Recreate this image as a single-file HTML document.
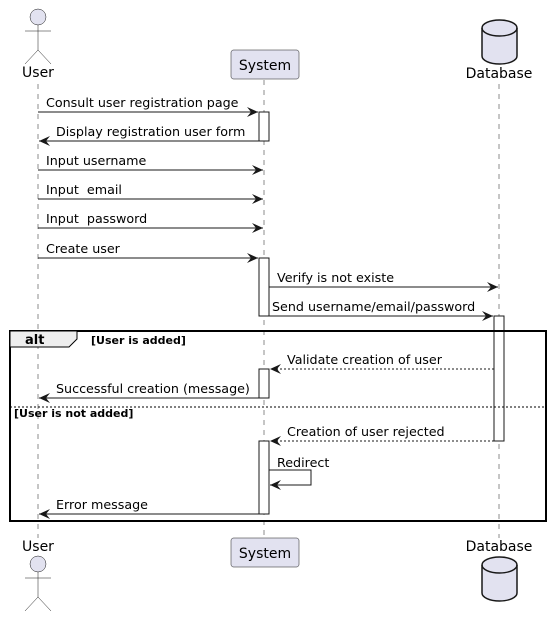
<!DOCTYPE html>
<html><head><meta charset="utf-8"><style>
html,body{margin:0;padding:0;background:#fff;}
svg{display:block;font-family:"DejaVu Sans","Liberation Sans",sans-serif;}
</style></head><body>
<svg width="552" height="618" viewBox="0 0 552 618" xmlns="http://www.w3.org/2000/svg">
<defs>
<marker id="a" markerWidth="12" markerHeight="10" refX="11" refY="5" orient="auto" markerUnits="userSpaceOnUse">
<path d="M0,0 L11,5 L0,10 L4,5 Z" fill="#181818"/>
</marker>
</defs>
<g stroke="#181818" stroke-width="0.5" stroke-dasharray="5,5">
<line x1="38" y1="84" x2="38" y2="538"/>
<line x1="264" y1="80" x2="264" y2="538"/>
<line x1="499" y1="84" x2="499" y2="538"/>
</g>
<g stroke="#181818" stroke-width="0.5" fill="none">
<circle cx="38" cy="17" r="8" fill="#E2E2F0"/>
<line x1="38" y1="25" x2="38" y2="50"/>
<line x1="25" y1="31" x2="51" y2="31"/>
<polyline points="25,64 38,50 51,64"/>
</g>
<text x="38" y="77" font-size="14" text-anchor="middle" fill="#000">User</text>
<rect x="231" y="50" width="68" height="29" rx="2.5" fill="#E2E2F0" stroke="#181818" stroke-width="0.5"/>
<text x="265" y="70" font-size="14" text-anchor="middle">System</text>
<g stroke="#181818" stroke-width="1.5" fill="#E2E2F0">
<path d="M482,28 A17.5,8 0 0 1 517,28 L517,56 A17.5,8 0 0 1 482,56 Z"/>
<path d="M482,28 A17.5,8 0 0 0 517,28" fill="none"/>
</g>
<text x="499" y="78" font-size="14" text-anchor="middle">Database</text>
<g fill="#fff" stroke="#181818" stroke-width="1">
<rect x="259" y="112" width="10" height="29"/>
<rect x="259" y="258" width="10" height="58"/>
<rect x="494" y="316" width="10" height="125"/>
<rect x="259" y="369" width="10" height="29"/>
<rect x="259" y="441" width="10" height="73"/>
</g>
<g stroke="#181818" stroke-width="1" fill="none">
<line x1="38" y1="112" x2="258" y2="112" marker-end="url(#a)"/>
<line x1="259" y1="141" x2="39" y2="141" marker-end="url(#a)"/>
<line x1="38" y1="170" x2="263" y2="170" marker-end="url(#a)"/>
<line x1="38" y1="199" x2="263" y2="199" marker-end="url(#a)"/>
<line x1="38" y1="228" x2="263" y2="228" marker-end="url(#a)"/>
<line x1="38" y1="258" x2="258" y2="258" marker-end="url(#a)"/>
<line x1="269" y1="287" x2="498" y2="287" marker-end="url(#a)"/>
<line x1="269" y1="316" x2="493" y2="316" marker-end="url(#a)"/>
<line x1="494" y1="369" x2="270" y2="369" stroke-dasharray="2,2" marker-end="url(#a)"/>
<line x1="259" y1="398" x2="39" y2="398" marker-end="url(#a)"/>
<line x1="494" y1="441" x2="270" y2="441" stroke-dasharray="2,2" marker-end="url(#a)"/>
<polyline points="269,470 311,470 311,485 270,485" marker-end="url(#a)"/>
<line x1="259" y1="514" x2="39" y2="514" marker-end="url(#a)"/>
</g>
<g font-size="12.7" fill="#000">
<text x="46" y="107">Consult user registration page</text>
<text x="56" y="136">Display registration user form</text>
<text x="46" y="165">Input username</text>
<text x="46" y="194" xml:space="preserve">Input  email</text>
<text x="46" y="223" xml:space="preserve">Input  password</text>
<text x="46" y="253">Create user</text>
<text x="277" y="282">Verify is not existe</text>
<text x="272" y="311">Send username/email/password</text>
<text x="287" y="364">Validate creation of user</text>
<text x="56" y="393">Successful creation (message)</text>
<text x="287" y="436">Creation of user rejected</text>
<text x="277" y="467">Redirect</text>
<text x="56" y="509">Error message</text>
</g>
<rect x="10" y="331" width="536" height="190" fill="none" stroke="#000" stroke-width="2"/>
<path d="M10,331 L77,331 L77,339 L69,347 L10,347 Z" fill="#EEEEEE" stroke="#000" stroke-width="1"/>
<text x="25" y="344" font-size="13" font-weight="bold">alt</text>
<text x="91" y="344" font-size="11" font-weight="bold">[User is added]</text>
<line x1="10" y1="407" x2="546" y2="407" stroke="#000" stroke-width="1" stroke-dasharray="2,2"/>
<text x="14" y="417" font-size="11" font-weight="bold">[User is not added]</text>
<text x="38" y="551" font-size="14" text-anchor="middle">User</text>
<g stroke="#181818" stroke-width="0.5" fill="none">
<circle cx="38" cy="564" r="8" fill="#E2E2F0"/>
<line x1="38" y1="572" x2="38" y2="597"/>
<line x1="25" y1="578" x2="51" y2="578"/>
<polyline points="25,611 38,597 51,611"/>
</g>
<rect x="231" y="538" width="68" height="29" rx="2.5" fill="#E2E2F0" stroke="#181818" stroke-width="0.5"/>
<text x="265" y="558" font-size="14" text-anchor="middle">System</text>
<text x="499" y="551" font-size="14" text-anchor="middle">Database</text>
<g stroke="#181818" stroke-width="1.5" fill="#E2E2F0">
<path d="M482,565 A17.5,8 0 0 1 517,565 L517,593 A17.5,8 0 0 1 482,593 Z"/>
<path d="M482,565 A17.5,8 0 0 0 517,565" fill="none"/>
</g>
</svg>
</body></html>
